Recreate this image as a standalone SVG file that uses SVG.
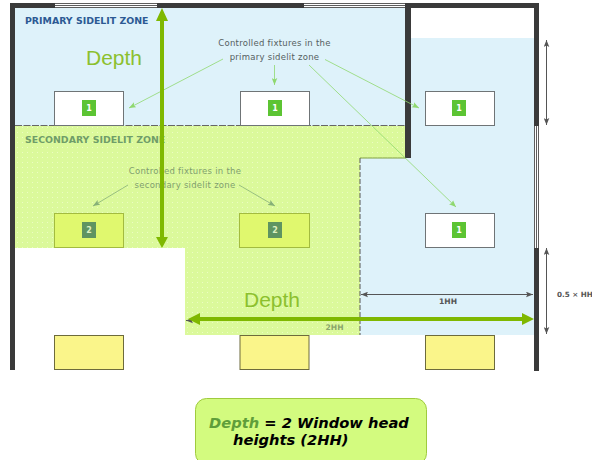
<svg xmlns="http://www.w3.org/2000/svg" width="592" height="460" viewBox="0 0 592 460">
<style>
.ui{font-family:"DejaVu Sans","Liberation Sans",sans-serif}
.cap{font-size:8.5px;letter-spacing:.26px;text-anchor:middle;fill:#55605f}
.cap2{font-size:8.5px;letter-spacing:.26px;text-anchor:middle;fill:#7f9f6e}
.zone{font-size:9.4px;font-weight:bold}
.dep{font-family:"Liberation Sans",Arial,sans-serif;font-size:21px;fill:#8cc02e}
.hh{font-size:7.6px;font-weight:bold}
.fx{fill:#fff;stroke:#6f7476;stroke-width:1}
.fx2{fill:#e0f86e;stroke:#a3bb3f;stroke-width:1}
.fx3{fill:#faf58a;stroke:#6d6b3c;stroke-width:1}
.b1{fill:#5cc433}.b2{fill:#5f9461}
.bt{font-size:8px;font-weight:bold;fill:#fff;text-anchor:middle;font-family:"DejaVu Sans",sans-serif}
.wall{fill:#3a3a3a}
.lead{stroke:#8fd86f;stroke-width:.8;fill:none}
.lead2{stroke:#86b077;stroke-width:.8;fill:none}
.dim{stroke:#555;stroke-width:1;fill:none}
.big{stroke:#7fb800;stroke-width:4;fill:none}
</style>
<defs>
<pattern id="dots" width="5" height="5" patternUnits="userSpaceOnUse"><rect width="5" height="5" fill="#dbf99b"/><rect x="2" y="2" width="1" height="1" fill="#ecfcc4"/></pattern>
<marker id="mLead" viewBox="0 0 10 8" refX="10" refY="4" markerWidth="7" markerHeight="6" markerUnits="userSpaceOnUse" orient="auto"><path d="M0 0L10 4L0 8L2 4Z" fill="#8fd86f"/></marker>
<marker id="mLead2" viewBox="0 0 10 8" refX="10" refY="4" markerWidth="7" markerHeight="6" markerUnits="userSpaceOnUse" orient="auto"><path d="M0 0L10 4L0 8L2 4Z" fill="#86b077"/></marker>
<marker id="mDim" viewBox="0 0 10 8" refX="10" refY="4" markerWidth="7" markerHeight="6" markerUnits="userSpaceOnUse" orient="auto-start-reverse"><path d="M0 0L10 4L0 8L2 4Z" fill="#555"/></marker>
</defs>
<rect width="592" height="460" fill="#fff"/>
<g id="zones">
<rect x="15" y="8" width="391" height="118" fill="#def2fa"/>
<path d="M411 38H534V335H360V158H411Z" fill="#def2fa"/>
<path d="M15 126H405V158H360V335H185V248H15Z" fill="url(#dots)"/>
<path d="M15 125.500H405" stroke="#666" stroke-width="1" stroke-dasharray="7 1.500"/>
<path d="M360 158H406" stroke="#7f9f3c" stroke-width="1"/>
<path d="M360 158V335" stroke="#555" stroke-width="1" stroke-dasharray="5 2"/>
</g>
<g id="walls">
<path class="wall" d="M10 3H539V126H534V8H411V158H405V8H15V370H10Z"/>
<rect class="wall" x="534" y="248" width="5" height="123"/>
<rect x="55" y="3" width="102" height="5" fill="#fff"/>
<path d="M55 3.500H157M55 5.500H157M55 7.500H157" stroke="#333" stroke-width=".8"/>
<rect x="304" y="3" width="101" height="5" fill="#fff"/>
<path d="M304 3.500H405M304 5.500H405M304 7.500H405" stroke="#333" stroke-width=".8"/>
<rect x="534" y="126" width="5" height="122" fill="#fff"/>
<path d="M534.500 126V248M536.500 126V248M538.500 126V248" stroke="#333" stroke-width=".8"/>
</g>
<g id="fixture-p1"><rect class="fx" x="54.500" y="91.500" width="69" height="34"/><rect class="b1" x="82" y="100" width="14" height="16"/><text class="bt" x="89" y="111">1</text></g>
<g id="fixture-p2"><rect class="fx" x="240.500" y="91.500" width="69" height="34"/><rect class="b1" x="268" y="100" width="14" height="16"/><text class="bt" x="275" y="111">1</text></g>
<g id="fixture-p3"><rect class="fx" x="425.500" y="91.500" width="69" height="34"/><rect class="b1" x="452" y="100" width="14" height="16"/><text class="bt" x="459" y="111">1</text></g>
<g id="fixture-p4"><rect class="fx" x="425.500" y="213.500" width="69" height="34"/><rect class="b1" x="452" y="222" width="14" height="16"/><text class="bt" x="459" y="233">1</text></g>
<g id="fixture-s1"><rect class="fx2" x="54.500" y="213.500" width="69" height="34"/><rect class="b2" x="82" y="222" width="14" height="16"/><text class="bt" x="89" y="233" style="fill:#dff0c0">2</text></g>
<g id="fixture-s2"><rect class="fx2" x="239.500" y="213.500" width="70" height="34"/><rect class="b2" x="268" y="222" width="14" height="16"/><text class="bt" x="275" y="233" style="fill:#dff0c0">2</text></g>
<g id="fixture-y1"><rect class="fx3" x="54.500" y="335.500" width="69" height="34"/></g>
<g id="fixture-y2"><rect class="fx3" x="240" y="335.500" width="69" height="34"/></g>
<g id="fixture-y3"><rect class="fx3" x="425.500" y="335.500" width="69" height="34"/></g>
<g id="labels">
<text class="ui zone" x="25" y="24" fill="#2c5a94">PRIMARY SIDELIT ZONE</text>
<text class="ui zone" x="25" y="143" fill="#6f9d68">SECONDARY SIDELIT ZONE</text>
<text class="dep" x="86" y="65">Depth</text>
<text class="dep" x="244" y="307">Depth</text>
<text class="ui cap" x="274.500" y="46">Controlled fixtures in the</text>
<text class="ui cap" x="274.500" y="60">primary sidelit zone</text>
<text class="ui cap2" x="185" y="174">Controlled fixtures in the</text>
<text class="ui cap2" x="185" y="188">secondary sidelit zone</text>
<text class="ui hh" x="448" y="303.500" text-anchor="middle" fill="#555">1HH</text>
<text class="ui hh" x="334.500" y="330" text-anchor="middle" fill="#8aa56a">2HH</text>
<text class="ui" x="557" y="296.500" font-size="7.200" font-weight="bold" fill="#555">0.5 × HH</text>
</g>
<g id="connectors">
<path class="lead" marker-end="url(#mLead)" d="M223 59L129 108"/>
<path class="lead" marker-end="url(#mLead)" d="M274.500 65V85"/>
<path class="lead" marker-end="url(#mLead)" d="M325 59.500L419 108"/>
<path class="lead" marker-end="url(#mLead)" d="M309 65L456 207"/>
<path class="lead2" marker-end="url(#mLead2)" d="M128 185L93 206"/>
<path class="lead2" marker-end="url(#mLead2)" d="M239 185L275 206"/>
<path class="dim" marker-start="url(#mDim)" marker-end="url(#mDim)" d="M546.500 40V125"/>
<path class="dim" marker-start="url(#mDim)" marker-end="url(#mDim)" d="M546.500 248V334"/>
<path class="dim" marker-start="url(#mDim)" marker-end="url(#mDim)" d="M361 294.500H533"/>
<path class="dim" marker-start="url(#mDim)" d="M186 320.500H200"/>
<path class="big" d="M162 18V240"/>
<path d="M162 8L168 21H156Z M162 248L156 237H168Z" fill="#7fb800"/>
<path class="big" d="M198 319H524"/>
<path d="M188 319L200 313V325Z M534 319L522 313V325Z" fill="#7fb800"/>
</g>
<g id="note">
<rect x="195.500" y="398.500" width="231" height="66" rx="11" fill="#d3fb7f" stroke="#9fcb3e" stroke-width="1"/>
<text class="ui" x="209" y="428" font-size="14.700" font-weight="bold" font-style="italic" fill="#000"><tspan fill="#5f9e3a">Depth</tspan> = 2 Window head</text>
<text class="ui" x="233" y="445" font-size="14.700" font-weight="bold" font-style="italic" fill="#000">heights (2HH)</text>
</g>
</svg>
